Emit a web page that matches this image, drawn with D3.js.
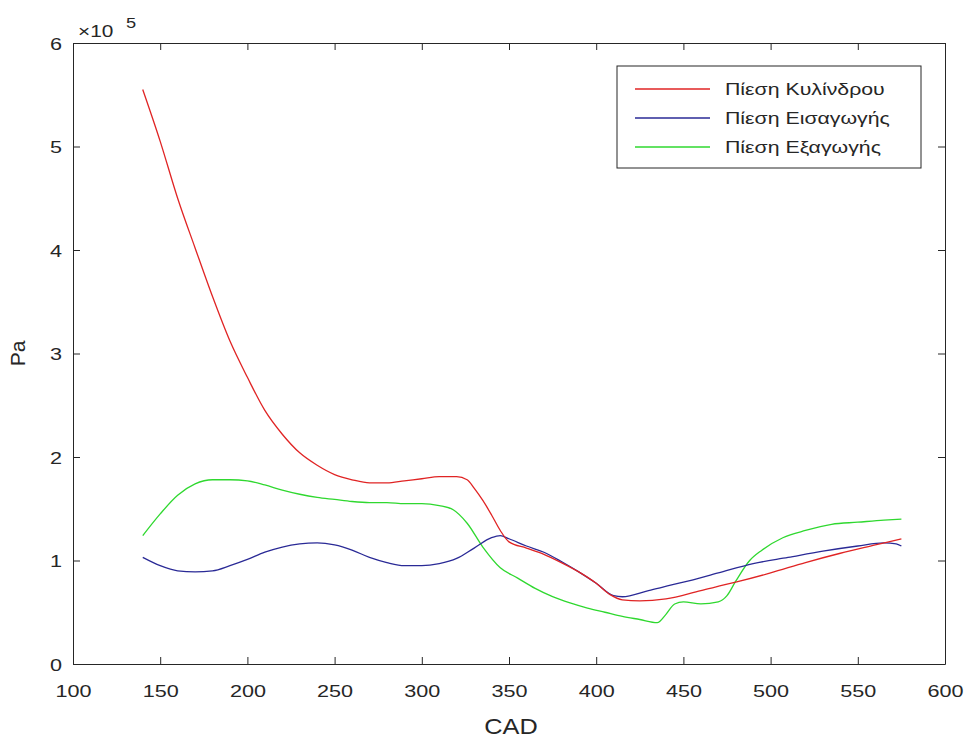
<!DOCTYPE html>
<html>
<head>
<meta charset="utf-8">
<script src="https://cdn.jsdelivr.net/npm/d3@7"></script>
<style>
  body { margin: 0; background: #fff; }
  text { font-family: "Liberation Sans", Arial, sans-serif; fill: #262626; }
</style>
</head>
<body>
<div id="chart"></div>
<script>
// crank angle (CAD) and pressures, in units of 1e5 Pa
const cylX = [140,150,160,170,180,190,200,210,220,230,240,250,260,270,280,290,300,310,320,326,330,335,340,345,350,360,370,380,390,400,408,415,425,440,460,480,500,520,540,560,575];
const cylY = [5.55,5.05,4.50,4.02,3.55,3.12,2.77,2.45,2.22,2.04,1.92,1.83,1.78,1.75,1.75,1.77,1.79,1.81,1.81,1.78,1.70,1.58,1.44,1.29,1.18,1.12,1.06,0.98,0.89,0.78,0.67,0.62,0.61,0.63,0.71,0.79,0.88,0.98,1.07,1.15,1.21];

const inX = [140,150,160,170,180,190,200,210,220,230,240,250,260,270,280,290,300,310,320,330,340,345,350,360,370,380,390,400,410,415,430,450,470,490,510,530,550,565,572,575];
const inY = [1.03,0.95,0.90,0.89,0.90,0.95,1.01,1.08,1.13,1.16,1.17,1.15,1.10,1.03,0.98,0.95,0.95,0.97,1.02,1.12,1.22,1.24,1.21,1.14,1.08,0.99,0.89,0.78,0.66,0.65,0.71,0.79,0.88,0.97,1.03,1.09,1.14,1.17,1.16,1.14];

const exX = [140,150,160,170,180,190,200,210,220,230,240,250,260,270,280,290,300,310,318,326,335,345,355,365,375,385,395,405,415,425,435,440,445,450,460,470,475,480,488,495,507,520,535,550,565,575];
const exY = [1.24,1.45,1.63,1.74,1.78,1.78,1.77,1.73,1.68,1.64,1.61,1.59,1.57,1.56,1.56,1.55,1.55,1.53,1.49,1.36,1.13,0.93,0.83,0.73,0.65,0.59,0.54,0.50,0.46,0.43,0.40,0.48,0.58,0.60,0.58,0.60,0.66,0.80,1.00,1.10,1.22,1.29,1.35,1.37,1.39,1.40];

const seriesNames = ["Πίεση Κυλίνδρου", "Πίεση Εισαγωγής", "Πίεση Εξαγωγής"];
const seriesColors = ["#e02424", "#2a2a96", "#2fd82f"];
const xTicks = [100,150,200,250,300,350,400,450,500,550,600];
const yTicks = [0,1,2,3,4,5,6];

const width = 966, height = 738;
const margin = { top: 43, right: 21, bottom: 74, left: 73 };

const svg = d3.select("#chart").append("svg")
  .attr("width", width).attr("height", height);

// the picture's text is wider than the font, so stretch it horizontally
function widen(sel, k) {
  sel.each(function () {
    const w = this.getComputedTextLength();
    d3.select(this).attr("textLength", w * k).attr("lengthAdjust", "spacingAndGlyphs");
  });
}

const x = d3.scaleLinear().domain([100, 600]).range([margin.left, width - margin.right]);
const y = d3.scaleLinear().domain([0, 6]).range([height - margin.bottom, margin.top]);

const tick = 7;
// bottom / left axes with labels
svg.append("g")
  .attr("transform", `translate(0,${height - margin.bottom})`)
  .call(d3.axisBottom(x).tickValues(xTicks).tickSize(-tick).tickPadding(22).tickSizeOuter(0))
  .call(g => g.selectAll("text").style("font-size", "16px").call(widen, 1.35));
svg.append("g")
  .attr("transform", `translate(${margin.left},0)`)
  .call(d3.axisLeft(y).tickValues(yTicks).tickFormat(d3.format("d")).tickSize(-tick).tickPadding(11).tickSizeOuter(0))
  .call(g => g.selectAll("text").style("font-size", "16px").attr("dy", "0.4em").call(widen, 1.35));
// top / right axes, ticks only
svg.append("g")
  .attr("transform", `translate(0,${margin.top})`)
  .call(d3.axisTop(x).tickValues(xTicks).tickSize(-tick).tickFormat("").tickSizeOuter(0));
svg.append("g")
  .attr("transform", `translate(${width - margin.right},0)`)
  .call(d3.axisRight(y).tickValues(yTicks).tickSize(-tick).tickFormat("").tickSizeOuter(0));
svg.selectAll(".domain, .tick line").attr("stroke", "#262626");

// exponent multiplier
svg.append("text").attr("x", 78).attr("y", 37).style("font-size", "16px").text("×10").call(widen, 1.3);
svg.append("text").attr("x", 126).attr("y", 28).style("font-size", "14px").text("5").call(widen, 1.3);

svg.append("text").attr("x", 511).attr("y", 734).attr("text-anchor", "middle")
  .style("font-size", "22px").text("CAD").call(widen, 1.15);
svg.append("text").attr("transform", `translate(25,${y(3)}) rotate(-90)`)
  .attr("text-anchor", "middle").style("font-size", "21px").text("Pa");

const line = d3.line().x(d => x(d[0])).y(d => y(d[1])).curve(d3.curveMonotoneX);
const series = [d3.zip(cylX, cylY), d3.zip(inX, inY), d3.zip(exX, exY)];
// draw green, blue, red so red stays on top where they overlap
[2, 1, 0].forEach(i => {
  svg.append("path").datum(series[i])
    .attr("fill", "none").attr("stroke", seriesColors[i]).attr("stroke-width", 1.3)
    .attr("d", line);
});

// legend
const lg = svg.append("g").attr("transform", "translate(617,66)");
lg.append("rect").attr("width", 304).attr("height", 102)
  .attr("fill", "#fff").attr("stroke", "#262626").attr("stroke-width", 1);
seriesNames.forEach((name, i) => {
  const yy = 23 + i * 29;
  lg.append("line").attr("x1", 18).attr("x2", 93).attr("y1", yy).attr("y2", yy)
    .attr("stroke", seriesColors[i]).attr("stroke-width", 1.3);
  lg.append("text").attr("x", 108).attr("y", yy + 6).style("font-size", "16px").text(name).call(widen, 1.33);
});
</script>
</body>
</html>
